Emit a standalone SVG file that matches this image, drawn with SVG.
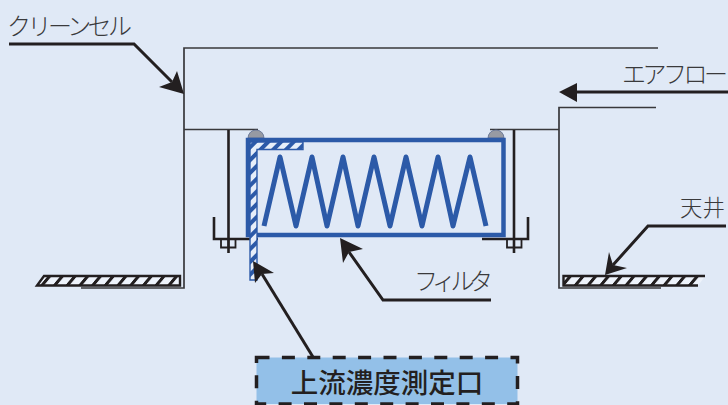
<svg xmlns="http://www.w3.org/2000/svg" width="728" height="405" viewBox="0 0 728 405">
<defs>
<pattern id="hk" width="12.700" height="12" patternUnits="userSpaceOnUse" patternTransform="skewX(-40)"><rect width="12.700" height="12" fill="#eef3fb"/><rect width="4" height="12" fill="#231f20"/></pattern>
<pattern id="hb" width="9" height="9" patternUnits="userSpaceOnUse" patternTransform="rotate(45)"><rect width="9" height="9" fill="#e6eef9"/><rect width="4" height="9" fill="#2c5aa8"/></pattern>
</defs>
<style>
.t{font-family:"Noto Sans CJK JP","Noto Sans",sans-serif;font-size:24px;fill:#3a3a3c;font-weight:300}
.thin{fill:none;stroke:#38383b;stroke-width:1.700}
.lead{fill:none;stroke:#231f20;stroke-width:3}
.head{fill:#231f20}
.bk{fill:none;stroke:#231f20;stroke-width:1.800}
.post{fill:none;stroke:#231f20;stroke-width:2.600}
.slab{fill:url(#hk)}
.edge{fill:none;stroke:#231f20;stroke-width:2.400}
.hbl{fill:url(#hb);stroke:#2c5aa8;stroke-width:1.400}
.dome{fill:#979aa3;stroke:#5f6f92;stroke-width:.8}
</style>
<rect width="728" height="405" fill="#e0e9f6"/>
<g id="clean-cell-duct">
<path class="thin" d="M658 48H184V288H81"/>
<path class="thin" d="M184 129.500H258"/>
</g>
<g id="right-duct">
<path class="thin" d="M656 107.500H559V288H661"/>
<path class="thin" d="M490 129.500H559"/>
</g>
<g id="ceiling-left">
<path class="slab" d="M44 276.500H180V285.500H37Z"/>
<path class="edge" d="M44 276H180V285.500H37Z"/>
</g>
<g id="ceiling-right">
<path class="slab" d="M563.500 276.500H705L698 285.500H563.500Z"/>
<path class="edge" d="M705 276H563.500V285.500H698"/>
</g>
<g id="hangers">
<path class="post" d="M228.500 130V253M514 130V253"/>
<path class="post" d="M214 217V239H258M482 239H528V217"/>
<path class="bk" d="M221 239V247.500H235.500V239M228.500 239V247.500M507 239V247.500H521.500V239"/>
</g>
<g id="domes">
<path class="dome" d="M248 138A8 8 0 0 1 264 138Z"/>
<path class="dome" d="M488 138A8 8 0 0 1 504 138Z"/>
</g>
<g id="filter">
<rect x="248" y="140" width="255.500" height="95" fill="none" stroke="#2c5aa8" stroke-width="4.500"/>
<polyline points="264,226 280,157 296,226 312,157 327,226 343,157 358,226 374,157 390,226 406,157 422,226 438,157 453,226 470,157 486,226" fill="none" stroke="#2c5aa8" stroke-width="5" stroke-linejoin="round"/>
</g>
<g id="probe">
<path class="hbl" d="M250 142H303V149.500H257V280H250Z"/>
</g>
<g id="connectors">
<path class="lead" d="M9 44H134L172 82"/>
<path class="head" d="M184 94L177 71L172 82L159 87Z"/>
<path class="lead" d="M728 92H575"/>
<path class="head" d="M559 92L577 83V102Z"/>
<path class="lead" d="M726 226H648L613 265"/>
<path class="head" d="M605 275L609 252L613 265L627 268Z"/>
<path class="lead" d="M491 300H383L349 252"/>
<path class="head" d="M340 238L363 249L349 252L343 263Z"/>
<path class="lead" d="M313 357L262 274"/>
<path class="head" d="M253 261L274 273L262 274L255 283Z"/>
</g>
<g id="label-clean-cell"><text class="t" x="7" y="35" textLength="125" lengthAdjust="spacing">クリーンセル</text></g>
<g id="label-airflow"><text class="t" x="622" y="83" textLength="106" lengthAdjust="spacing">エアフロー</text></g>
<g id="label-ceiling"><text class="t" x="680" y="215.500" style="font-size:22.500px">天井</text></g>
<g id="label-filter"><text class="t" x="414" y="290" textLength="79" lengthAdjust="spacing">フィルタ</text></g>
<g id="upstream-port">
<rect x="256.500" y="357.500" width="261" height="46.500" fill="#93c0e8" stroke="#231f20" stroke-width="3.500" stroke-dasharray="13 12.400"/>
<text x="387" y="392.500" text-anchor="middle" font-family="'Noto Sans CJK JP',sans-serif" font-size="27.500" font-weight="500" fill="#231f20">上流濃度測定口</text>
</g>
</svg>
